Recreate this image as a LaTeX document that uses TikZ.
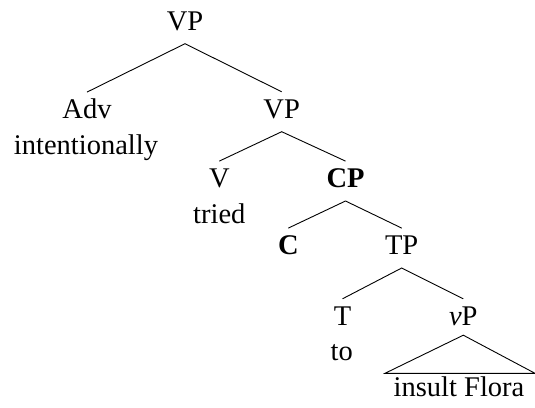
\documentclass[tikz,border=0pt]{standalone}
\usepackage{fontspec}
\setmainfont{Liberation Serif}
\begin{document}
\begin{tikzpicture}[x=1pt,y=-1pt,
  every node/.style={font=\fontsize{28.5}{34}\selectfont, inner sep=0pt, anchor=base},
  cat/.style={text height=26pt, text depth=13.5pt},
  word/.style={},
  branch/.style={line width=0.9pt, black}]
\useasboundingbox (0,0) rectangle (535,407);
% nodes
\node[cat] (vp1) at (185,30) {VP};
\node[cat] (adv) at (87,118.3) {Adv};
\node[word] (intent) at (86,154.3) {intentionally};
\node[cat] (vp2) at (281.7,118) {VP};
\node[cat] (v) at (219.3,187.3) {V};
\node[word] (tried) at (219.3,223.3) {tried};
\node[cat] (cp) at (345.5,187.3) {\textbf{CP}};
\node[cat] (c) at (288.3,254.3) {\textbf{C}};
\node[cat] (tp) at (401.7,254.3) {TP};
\node[cat] (t) at (342.5,325) {T};
\node[word] (to) at (341.7,360.5) {to};
\node[cat, text depth=10pt] (vp) at (463.3,325) {\textit{v}P};
\node[word] (ins) at (459,396.7) {insult Flora};
\coordinate (tl) at (385,373.3);
\coordinate (tr) at (535,373.3);
% branches
\draw[branch] (adv.north) -- (vp1.south) -- (vp2.north);
\draw[branch] (v.north) -- (vp2.south) -- (cp.north);
\draw[branch] (c.north) -- (cp.south) -- (tp.north);
\draw[branch] (t.north) -- (tp.south) -- (vp.north);
\draw[branch] (tl) -- (vp.south) -- (tr) -- cycle;
\end{tikzpicture}
\end{document}
